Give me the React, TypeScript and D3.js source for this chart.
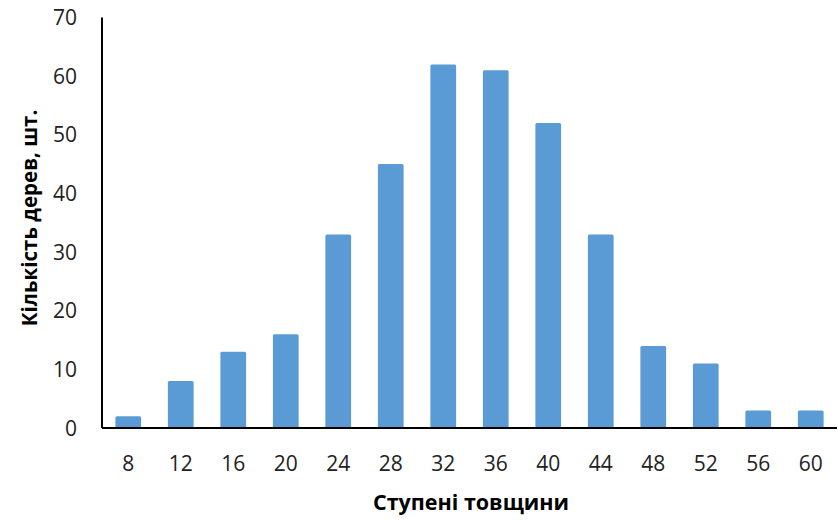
import React from "react";
import * as d3 from "d3";

const categories = ["8", "12", "16", "20", "24", "28", "32", "36", "40", "44", "48", "52", "56", "60"];
const values = [2, 8, 13, 16, 33, 45, 62, 61, 52, 33, 14, 11, 3, 3];
const yTicks = [0, 10, 20, 30, 40, 50, 60, 70];
const xTitle = "Ступені товщини";
const yTitle = "Кількість дерев, шт.";

const W = 838;
const H = 520;
const m = { left: 102, right: 1, top: 17.5, bottom: 92 };

export default function App() {
  const x = d3
    .scaleBand<string>()
    .domain(categories)
    .range([m.left, W - m.right])
    .paddingInner(0.51)
    .paddingOuter(0.255);
  const y = d3.scaleLinear().domain([0, 70]).range([H - m.bottom, m.top]);
  const font = "'Open Sans', 'Liberation Sans', sans-serif";
  return (
    <svg
      width={W}
      height={H}
      style={{ position: "absolute", left: 0, top: 0, background: "#fff" }}
      fontFamily={font}
    >
      {values.map((v, i) => (
        <rect
          key={i}
          x={x(categories[i])}
          y={y(v)}
          width={x.bandwidth()}
          height={y(0) - y(v)}
          fill="#5B9BD5"
          rx={1.5}
        />
      ))}
      <line x1={m.left} x2={m.left} y1={y(70)} y2={y(0)} stroke="#000" strokeWidth={2} />
      <line x1={m.left} x2={W - m.right} y1={y(0)} y2={y(0)} stroke="#000" strokeWidth={2} />
      {yTicks.map((t) => (
        <text key={t} x={77} y={y(t)} dy="0.36em" textAnchor="end" fontSize={21} fill="#222">
          {t}
        </text>
      ))}
      {categories.map((c) => (
        <text
          key={c}
          x={(x(c) as number) + x.bandwidth() / 2}
          y={463}
          dy="0.36em"
          textAnchor="middle"
          fontSize={21}
          fill="#222"
        >
          {c}
        </text>
      ))}
      <text x={471} y={502} dy="0.36em" textAnchor="middle" fontSize={21.5} fontWeight="bold" fill="#000">
        {xTitle}
      </text>
      <text
        transform={`translate(30,218) rotate(-90)`}
        dy="0.36em"
        textAnchor="middle"
        fontSize={20.5}
        fontWeight="bold"
        fill="#000"
      >
        {yTitle}
      </text>
    </svg>
  );
}
